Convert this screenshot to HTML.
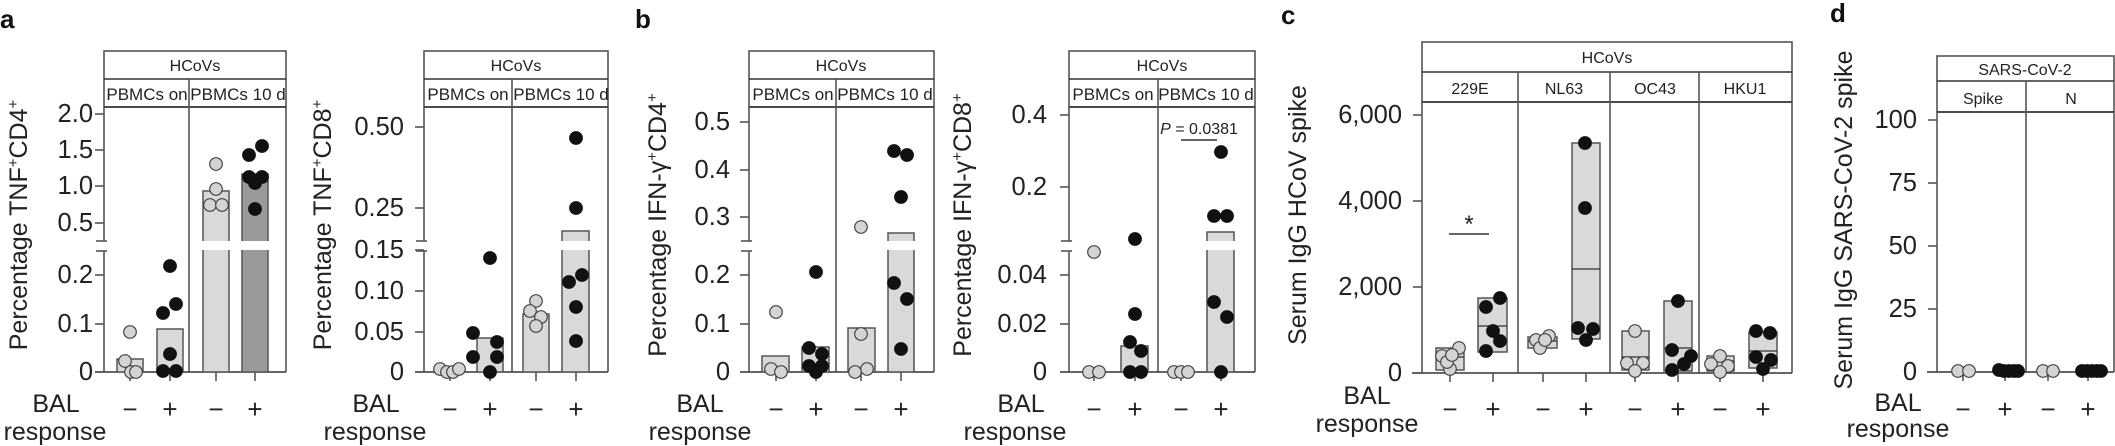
<!DOCTYPE html>
<html><head><meta charset="utf-8"><style>
html,body{margin:0;padding:0;background:#fff;}
svg{display:block;font-family:"Liberation Sans",Arial,sans-serif;}
.tl{font-size:25.5px;text-anchor:end;fill:#222}
.yt{font-size:25px;text-anchor:middle;fill:#222}
.h{font-size:16px;text-anchor:middle;fill:#222}
.s{font-size:17px;text-anchor:middle;fill:#222}
.pm{font-size:26px;text-anchor:middle;fill:#222}
.bal{font-size:25px;text-anchor:middle;fill:#222}
.lab{font-size:26px;font-weight:bold;fill:#111}
</style></head><body>
<svg id="s" width="2115" height="446" viewBox="0 0 2115 446" xmlns="http://www.w3.org/2000/svg">
<g id="shapes"></g>
<text class="lab" x="0" y="28">a</text>
<text class="lab" x="635" y="28">b</text>
<text class="lab" x="1281" y="24">c</text>
<text class="lab" x="1830" y="22">d</text>

<!-- a1 -->
<text class="h" x="195" y="71">HCoVs</text>
<text class="s" x="147" y="100">PBMCs on</text>
<text class="s" x="238" y="100">PBMCs 10 d</text>
<text class="tl" x="93" y="122">2.0</text><text class="tl" x="93" y="158">1.5</text><text class="tl" x="93" y="194">1.0</text><text class="tl" x="93" y="231">0.5</text><text class="tl" x="93" y="283">0.2</text><text class="tl" x="93" y="332">0.1</text><text class="tl" x="93" y="380">0</text>
<text class="yt" transform="translate(27,225) rotate(-90)">Percentage TNF<tspan dy="-9" font-size="15">+</tspan><tspan dy="9">CD4</tspan><tspan dy="-9" font-size="15">+</tspan></text>
<text class="bal" x="56" y="412">BAL</text><text class="bal" x="55" y="440">response</text>
<text class="pm" x="130" y="418">−</text><text class="pm" x="170" y="418">+</text><text class="pm" x="216" y="418">−</text><text class="pm" x="255" y="418">+</text>

<!-- a2 -->
<text class="h" x="516" y="71">HCoVs</text>
<text class="s" x="468" y="100">PBMCs on</text>
<text class="s" x="561" y="100">PBMCs 10 d</text>
<text class="tl" x="404" y="135">0.50</text><text class="tl" x="404" y="216">0.25</text><text class="tl" x="404" y="258">0.15</text><text class="tl" x="404" y="299">0.10</text><text class="tl" x="404" y="340">0.05</text><text class="tl" x="404" y="380">0</text>
<text class="yt" transform="translate(331,225) rotate(-90)">Percentage TNF<tspan dy="-9" font-size="15">+</tspan><tspan dy="9">CD8</tspan><tspan dy="-9" font-size="15">+</tspan></text>
<text class="bal" x="376" y="412">BAL</text><text class="bal" x="375" y="440">response</text>
<text class="pm" x="450" y="418">−</text><text class="pm" x="490" y="418">+</text><text class="pm" x="536" y="418">−</text><text class="pm" x="576" y="418">+</text>

<!-- b1 -->
<text class="h" x="841" y="71">HCoVs</text>
<text class="s" x="793" y="100">PBMCs on</text>
<text class="s" x="885" y="100">PBMCs 10 d</text>
<text class="tl" x="730" y="130">0.5</text><text class="tl" x="730" y="178">0.4</text><text class="tl" x="730" y="225">0.3</text><text class="tl" x="730" y="283">0.2</text><text class="tl" x="730" y="332">0.1</text><text class="tl" x="730" y="380">0</text>
<text class="yt" transform="translate(666,225) rotate(-90)">Percentage IFN-γ<tspan dy="-9" font-size="15">+</tspan><tspan dy="9">CD4</tspan><tspan dy="-9" font-size="15">+</tspan></text>
<text class="bal" x="700" y="412">BAL</text><text class="bal" x="700" y="440">response</text>
<text class="pm" x="776" y="418">−</text><text class="pm" x="816" y="418">+</text><text class="pm" x="861" y="418">−</text><text class="pm" x="901" y="418">+</text>

<!-- b2 -->
<text class="h" x="1162" y="71">HCoVs</text>
<text class="s" x="1113" y="100">PBMCs on</text>
<text class="s" x="1206" y="100">PBMCs 10 d</text>
<text class="tl" x="1047" y="123">0.4</text><text class="tl" x="1047" y="195">0.2</text><text class="tl" x="1047" y="283">0.04</text><text class="tl" x="1047" y="332">0.02</text><text class="tl" x="1047" y="380">0</text>
<text class="yt" transform="translate(971,225) rotate(-90)">Percentage IFN-γ<tspan dy="-9" font-size="15">+</tspan><tspan dy="9">CD8</tspan><tspan dy="-9" font-size="15">+</tspan></text>
<text class="bal" x="1021" y="412">BAL</text><text class="bal" x="1015" y="440">response</text>
<text class="pm" x="1094" y="418">−</text><text class="pm" x="1135" y="418">+</text><text class="pm" x="1181" y="418">−</text><text class="pm" x="1221" y="418">+</text>
<text x="1199" y="134" font-size="16" text-anchor="middle" fill="#222"><tspan font-style="italic">P</tspan> = 0.0381</text>

<!-- c -->
<text class="h" x="1607" y="63">HCoVs</text>
<text class="h" x="1470" y="94" font-size="16">229E</text><text class="h" x="1564" y="94" font-size="16">NL63</text><text class="h" x="1655" y="94" font-size="16">OC43</text><text class="h" x="1745" y="94" font-size="16">HKU1</text>
<text class="tl" x="1402" y="123">6,000</text><text class="tl" x="1402" y="209">4,000</text><text class="tl" x="1402" y="295">2,000</text><text class="tl" x="1402" y="381">0</text>
<text class="yt" transform="translate(1306,215) rotate(-90)">Serum IgG HCoV spike</text>
<text class="bal" x="1367" y="404">BAL</text><text class="bal" x="1367" y="432">response</text>
<text class="pm" x="1450" y="418">−</text><text class="pm" x="1493" y="418">+</text><text class="pm" x="1543" y="418">−</text><text class="pm" x="1586" y="418">+</text><text class="pm" x="1635" y="418">−</text><text class="pm" x="1678" y="418">+</text><text class="pm" x="1720" y="418">−</text><text class="pm" x="1763" y="418">+</text>
<text x="1469" y="232" font-size="24" text-anchor="middle" fill="#222">*</text>

<!-- d -->
<text class="h" x="2025" y="75">SARS-CoV-2</text>
<text class="h" x="1983" y="104" font-size="16">Spike</text><text class="h" x="2071" y="104" font-size="16">N</text>
<text class="tl" x="1917" y="128">100</text><text class="tl" x="1917" y="191">75</text><text class="tl" x="1917" y="254">50</text><text class="tl" x="1917" y="317">25</text><text class="tl" x="1917" y="380">0</text>
<text class="yt" transform="translate(1852,220) rotate(-90)">Serum IgG SARS-CoV-2 spike</text>
<text class="bal" x="1898" y="411">BAL</text><text class="bal" x="1898" y="437">response</text>
<text class="pm" x="1963" y="418">−</text><text class="pm" x="2005" y="418">+</text><text class="pm" x="2048" y="418">−</text><text class="pm" x="2088" y="418">+</text>
</svg>
<script>
var g=document.getElementById('shapes'),NS='http://www.w3.org/2000/svg';
function el(t,a){var e=document.createElementNS(NS,t);for(var k in a)e.setAttribute(k,a[k]);g.appendChild(e);return e;}
function line(x1,y1,x2,y2,c,w){el('line',{x1:x1,y1:y1,x2:x2,y2:y2,stroke:c||'#555','stroke-width':w||1.6});}
function rect(x,y,w,h,f,s){el('rect',{x:x,y:y,width:w,height:h,fill:f||'#d9d9d9',stroke:s||'#555','stroke-width':1.5});}
function dots(arr,black){arr.forEach(function(p){el('circle',{cx:p[0],cy:p[1],r:6.3,fill:black?'#111':'#d4d4d4',stroke:black?'#111':'#444','stroke-width':1.2});});}
function frame(L,R,T,r1,r2,B,divs,axL,tickYs,xt,brk){
  el('rect',{x:L,y:T,width:R-L,height:r2-T,fill:'#fff',stroke:'#555','stroke-width':1.6});
  line(L,r1,R,r1,'#333');line(L,r2,R,r2,'#333');
  divs.forEach(function(d){line(d,r1,d,B);});
  line(R,r2,R,B);
  if(brk){line(L,r2,L,brk[0]);line(L,brk[1],L,B);line(L-8,brk[0],L+3,brk[0]);line(L-8,brk[1],L+3,brk[1]);}
  else line(L,r2,L,B);
  line(axL,B,R,B,'#333');
  tickYs.forEach(function(y){line(L-9,y,L,y);});
  xt.forEach(function(x){line(x,B,x,B+9);});
}
function gap(x,w){el('rect',{x:x-1,y:241,width:w+2,height:9,fill:'#fff',stroke:'none'});}
frame(104,286,51,79,107,372,[189],95,[114,150,186,223,275,324,372],[130,170,216,255],[241,251]);
rect(117,359,26,13);rect(157,329,26,43);rect(203,191,26,181);rect(242,174,26,198,'#9a9a9a');
gap(203,26);gap(242,26);
dots([[130,332],[125,361],[131,372],[136,372]]);
dots([[170,266],[163,313],[176,304],[170,354],[163,371],[176,371]],1);
dots([[216,164],[216,189],[210,205],[222,205]]);
dots([[249,155],[262,146],[249,177],[255,183],[262,177],[255,209]],1);
frame(424,608,51,79,107,372,[512],415,[127,208,250,291,332,372],[450,490,536,576],[241,251]);
rect(477,338,26,34);rect(523,314,26,58);rect(562,231,27,141);gap(562,27);
dots([[440,369],[447,372],[453,372],[459,369]]);
dots([[490,258],[473,333],[497,342],[473,357],[497,357],[490,372]],1);
dots([[536,301],[530,311],[541,317],[536,326]]);
dots([[576,138],[576,208],[569,282],[582,275],[576,307],[576,341]],1);
frame(749,934,51,79,107,372,[836],740,[122,170,217,275,324,372],[776,816,861,901],[241,251]);
rect(762,356,27,16);rect(802,347,27,25);rect(848,328,27,44);rect(888,233,26,139);gap(888,26);
dots([[776,312],[771,369],[781,372]]);
dots([[816,272],[809,348],[822,354],[809,366],[822,366],[816,372]],1);
dots([[861,227],[861,334],[855,372],[867,369]]);
dots([[894,151],[907,155],[901,197],[894,283],[907,299],[901,349]],1);
frame(1069,1255,51,79,107,372,[1158],1060,[115,187,275,324,372],[1094,1135,1181,1221],[241,251]);
rect(1121,346,27,26);rect(1207,232,27,140);gap(1207,27);
line(1181,140,1217,140,'#333');
dots([[1094,252],[1089,372],[1099,372]]);
dots([[1135,239],[1135,314],[1130,342],[1141,351],[1130,372],[1141,372]],1);
dots([[1174,372],[1181,372],[1188,372]]);
dots([[1221,152],[1214,216],[1227,216],[1214,302],[1227,317],[1221,372]],1);
frame(1422,1792,42,72,102,373,[1518,1610,1699],1412,[115,201,287,373],[1450,1493,1543,1586,1635,1678,1720,1763],null);
function bx(x,w,t,b,m){rect(x,t,w,b-t);line(x,m,x+w,m,'#333',1.3);}
bx(1436,28,348,370,357);bx(1478,29,298,352,326);bx(1528,29,337,348,341);bx(1572,28,143,339,269);
bx(1622,27,331,370,357);bx(1664,28,301,371,348);bx(1707,27,356,371,361);bx(1749,28,332,368,351);
line(1449,234,1489,234,'#333');
dots([[1442,356],[1459,348],[1450,369],[1447,362],[1452,355]]);
dots([[1486,307],[1500,298],[1493,331],[1500,341],[1486,351]],1);
dots([[1536,340],[1549,336],[1540,348],[1545,340]]);
dots([[1585,143],[1585,208],[1578,328],[1593,329],[1586,340]],1);
dots([[1635,331],[1627,363],[1643,363],[1635,371]]);
dots([[1678,301],[1672,350],[1691,356],[1684,364],[1672,370]],1);
dots([[1720,356],[1711,364],[1728,366],[1720,372]]);
dots([[1756,331],[1770,333],[1756,357],[1771,360],[1763,369]],1);
frame(1937,2114,56,81,112,372,[2026],1927,[120,183,246,309,372],[1963,2005,2048,2088],null);
dots([[1958,371],[1969,371]]);
dots([[1999,370],[2004,371],[2009,371],[2014,371],[2018,371]],1);
dots([[2043,371],[2053,371]]);
dots([[2082,371],[2087,371],[2092,371],[2097,371],[2101,371]],1);
</script>
</body></html>
